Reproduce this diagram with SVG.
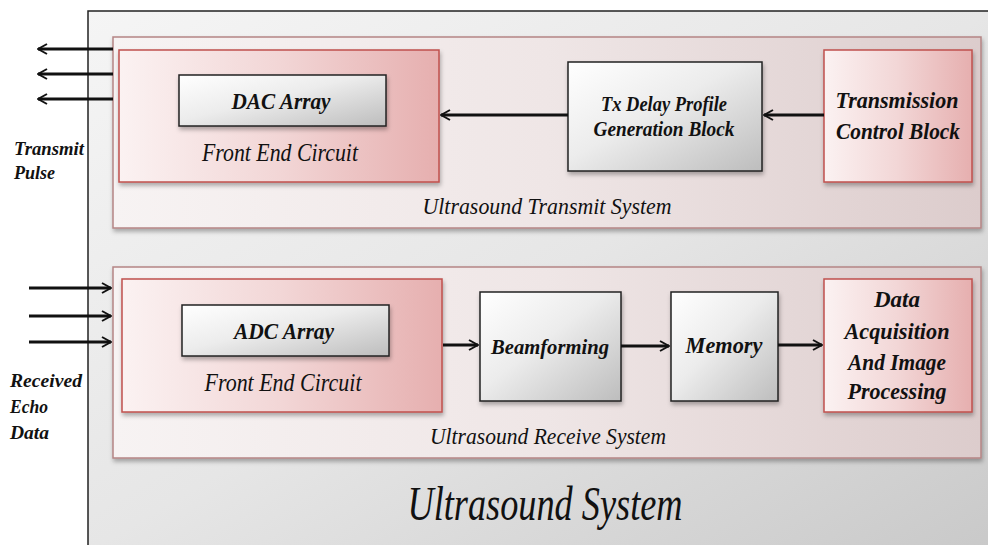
<svg xmlns="http://www.w3.org/2000/svg" width="988" height="545" viewBox="0 0 988 545">
<defs>
<linearGradient id="gOuter" x1="0" y1="0" x2="1" y2="1">
<stop offset="0" stop-color="#f5f5f5"/><stop offset="0.5" stop-color="#e6e6e6"/><stop offset="1" stop-color="#c9c9c9"/>
</linearGradient>
<linearGradient id="gSys" x1="0" y1="0" x2="1" y2="0">
<stop offset="0" stop-color="#f7f3f3"/><stop offset="0.5" stop-color="#efe6e6"/><stop offset="1" stop-color="#dccccc"/>
</linearGradient>
<linearGradient id="gRed" x1="0" y1="0" x2="1" y2="0">
<stop offset="0" stop-color="#fbf2f2"/><stop offset="0.5" stop-color="#f2d6d6"/><stop offset="1" stop-color="#e6afaf"/>
</linearGradient>
<linearGradient id="gGray" x1="0" y1="0" x2="1" y2="1">
<stop offset="0" stop-color="#ffffff"/><stop offset="0.45" stop-color="#ececec"/><stop offset="1" stop-color="#bdbdbd"/>
</linearGradient>
<filter id="sh" x="-10%" y="-10%" width="125%" height="130%">
<feDropShadow dx="1" dy="3" stdDeviation="2" flood-color="#000" flood-opacity="0.3"/>
</filter>
<marker id="ah" viewBox="0 0 12 12" refX="11" refY="6" markerWidth="12" markerHeight="12" markerUnits="userSpaceOnUse" orient="auto">
<path d="M2,1 L11,6 L2,11" fill="none" stroke="#111" stroke-width="2"/>
</marker>
</defs>
<style>
.sys{fill:url(#gSys);stroke:#b58585;stroke-width:1.5}
.red{fill:url(#gRed);stroke:#c0504d;stroke-width:1.5}
.gray{fill:url(#gGray);stroke:#222;stroke-width:1.5}
.t{font-family:"Liberation Serif",serif;font-style:italic;font-weight:bold;fill:#111}
.tn{font-family:"Liberation Serif",serif;font-style:italic;fill:#111}
.c{stroke:#111;stroke-width:3;fill:none;marker-end:url(#ah)}
</style>
<rect width="988" height="545" fill="#fff"/>
<g id="ultrasound-system">
<rect x="88" y="11" width="905" height="540" fill="url(#gOuter)" stroke="#222" stroke-width="1.5"/>
<text class="tn" x="545" y="520" font-size="48" text-anchor="middle" textLength="275" lengthAdjust="spacingAndGlyphs">Ultrasound System</text>
</g>
<g id="transmit-system">
<rect class="sys" x="113" y="37" width="868" height="191" filter="url(#sh)"/>
<text class="tn" x="547" y="214" font-size="23" text-anchor="middle" textLength="249" lengthAdjust="spacingAndGlyphs">Ultrasound Transmit System</text>
</g>
<g id="receive-system">
<rect class="sys" x="113" y="267" width="868" height="191" filter="url(#sh)"/>
<text class="tn" x="548" y="444" font-size="23" text-anchor="middle" textLength="236" lengthAdjust="spacingAndGlyphs">Ultrasound Receive System</text>
</g>
<g id="tx-front-end">
<rect class="red" x="119" y="50" width="320" height="132" filter="url(#sh)"/>
<text class="tn" x="280" y="161" font-size="25" text-anchor="middle" textLength="156" lengthAdjust="spacingAndGlyphs">Front End Circuit</text>
</g>
<g id="dac-array">
<rect class="gray" x="179" y="75" width="207" height="51" filter="url(#sh)"/>
<text class="t" x="281" y="109" font-size="24" text-anchor="middle" textLength="99" lengthAdjust="spacingAndGlyphs">DAC Array</text>
</g>
<g id="tx-delay">
<rect class="gray" x="568" y="62" width="194" height="109" filter="url(#sh)"/>
<text class="t" x="664" y="111" font-size="20" text-anchor="middle" textLength="126" lengthAdjust="spacingAndGlyphs">Tx Delay Profile</text>
<text class="t" x="664" y="136" font-size="20" text-anchor="middle" textLength="141" lengthAdjust="spacingAndGlyphs">Generation Block</text>
</g>
<g id="transmission-control">
<rect class="red" x="824" y="50" width="148" height="132" filter="url(#sh)"/>
<text class="t" x="897" y="108" font-size="24" text-anchor="middle" textLength="123" lengthAdjust="spacingAndGlyphs">Transmission</text>
<text class="t" x="898" y="139" font-size="24" text-anchor="middle" textLength="124" lengthAdjust="spacingAndGlyphs">Control Block</text>
</g>
<g id="rx-front-end">
<rect class="red" x="122" y="279" width="320" height="133" filter="url(#sh)"/>
<text class="tn" x="283" y="391" font-size="25" text-anchor="middle" textLength="157" lengthAdjust="spacingAndGlyphs">Front End Circuit</text>
</g>
<g id="adc-array">
<rect class="gray" x="182" y="305" width="207" height="51" filter="url(#sh)"/>
<text class="t" x="284" y="339" font-size="24" text-anchor="middle" textLength="100" lengthAdjust="spacingAndGlyphs">ADC Array</text>
</g>
<g id="beamforming">
<rect class="gray" x="480" y="292" width="141" height="109" filter="url(#sh)"/>
<text class="t" x="550" y="354" font-size="22" text-anchor="middle" textLength="118" lengthAdjust="spacingAndGlyphs">Beamforming</text>
</g>
<g id="memory">
<rect class="gray" x="671" y="292" width="107" height="109" filter="url(#sh)"/>
<text class="t" x="724" y="353" font-size="23" text-anchor="middle" textLength="77" lengthAdjust="spacingAndGlyphs">Memory</text>
</g>
<g id="data-acquisition">
<rect class="red" x="824" y="279" width="148" height="133" filter="url(#sh)"/>
<text class="t" x="897" y="307" font-size="23" text-anchor="middle" textLength="46" lengthAdjust="spacingAndGlyphs">Data</text>
<text class="t" x="897" y="339" font-size="23" text-anchor="middle" textLength="105" lengthAdjust="spacingAndGlyphs">Acquisition</text>
<text class="t" x="897" y="370" font-size="23" text-anchor="middle" textLength="98" lengthAdjust="spacingAndGlyphs">And Image</text>
<text class="t" x="897" y="399" font-size="23" text-anchor="middle" textLength="99" lengthAdjust="spacingAndGlyphs">Processing</text>
</g>
<g id="transmit-pulse-label">
<text class="t" x="14" y="155" font-size="19" textLength="70" lengthAdjust="spacingAndGlyphs">Transmit</text>
<text class="t" x="14" y="179" font-size="19" textLength="41" lengthAdjust="spacingAndGlyphs">Pulse</text>
</g>
<g id="received-echo-label">
<text class="t" x="10" y="387" font-size="19" textLength="72" lengthAdjust="spacingAndGlyphs">Received</text>
<text class="t" x="10" y="413" font-size="19" textLength="38" lengthAdjust="spacingAndGlyphs">Echo</text>
<text class="t" x="10" y="439" font-size="19" textLength="39" lengthAdjust="spacingAndGlyphs">Data</text>
</g>
<g id="connectors">
<line class="c" x1="113" y1="49" x2="38" y2="49"/>
<line class="c" x1="113" y1="74" x2="38" y2="74"/>
<line class="c" x1="113" y1="99" x2="38" y2="99"/>
<line class="c" x1="568" y1="115" x2="441" y2="115"/>
<line class="c" x1="824" y1="115" x2="764" y2="115"/>
<line class="c" x1="29" y1="288" x2="111" y2="288"/>
<line class="c" x1="29" y1="316" x2="111" y2="316"/>
<line class="c" x1="29" y1="342" x2="111" y2="342"/>
<line class="c" x1="443" y1="345" x2="478" y2="345"/>
<line class="c" x1="621" y1="346" x2="669" y2="346"/>
<line class="c" x1="778" y1="345" x2="822" y2="345"/>
</g>
</svg>
